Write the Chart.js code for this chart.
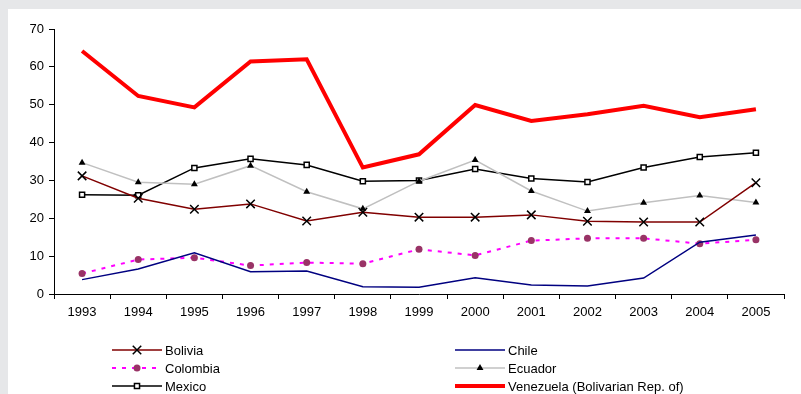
<!DOCTYPE html>
<html>
<head>
<meta charset="utf-8">
<script src="https://cdn.jsdelivr.net/npm/chart.js@4/dist/chart.umd.min.js"></script>
<style>
  html, body { margin: 0; padding: 0; background: #e6e7e9; }
  #wrap { position: absolute; left: 0; top: 0; width: 801px; height: 394px; }
</style>
</head>
<body>
<div id="wrap"><canvas id="chart" width="801" height="394"></canvas></div>
<script>
const years = ['1993','1994','1995','1996','1997','1998','1999','2000','2001','2002','2003','2004','2005'];
const bolivia   = [31.2, 25.3, 22.4, 23.8, 19.3, 21.6, 20.3, 20.3, 20.9, 19.2, 19.0, 19.0, 29.4];
const chile     = [3.8, 6.6, 10.9, 5.9, 6.1, 1.9, 1.8, 4.3, 2.4, 2.1, 4.2, 13.7, 15.6];
const colombia  = [5.4, 9.1, 9.6, 7.5, 8.3, 8.0, 11.8, 10.2, 14.1, 14.7, 14.7, 13.3, 14.3];
const ecuador   = [34.7, 29.5, 29.0, 33.9, 27.0, 22.5, 29.8, 35.4, 27.2, 21.9, 24.1, 26.0, 24.2];
const mexico    = [26.2, 26.1, 33.3, 35.7, 34.1, 29.8, 30.0, 33.0, 30.5, 29.6, 33.4, 36.2, 37.3];
const venezuela = [64.2, 52.3, 49.3, 61.4, 62.0, 33.4, 36.9, 49.9, 45.7, 47.5, 49.7, 46.7, 48.8];

const font = { family: 'Arial, "Liberation Sans", sans-serif', size: 13 };

// grey page with a white panel behind the chart
const panelBg = {
    id: 'panelBg',
    beforeDraw(chart) {
        const ctx = chart.ctx;
        ctx.save();
        ctx.fillStyle = '#e6e7e9';
        ctx.fillRect(0, 0, chart.width, chart.height);
        ctx.fillStyle = '#ffffff';
        ctx.fillRect(8, 9, chart.width - 8, chart.height - 9);
        ctx.restore();
    }
};

function drawMarker(ctx, ds, x, y) {
    const style = ds.pointStyle;
    const r = ds.pointRadius;
    if (!r) return;
    ctx.save();
    ctx.lineWidth = ds.pointBorderWidth || 1;
    ctx.strokeStyle = ds.pointBorderColor;
    ctx.fillStyle = ds.pointBackgroundColor;
    ctx.setLineDash([]);
    ctx.beginPath();
    if (style === 'crossRot') {
        const o = r * Math.SQRT1_2;
        ctx.moveTo(x - o, y - o); ctx.lineTo(x + o, y + o);
        ctx.moveTo(x - o, y + o); ctx.lineTo(x + o, y - o);
        ctx.stroke();
    } else if (style === 'circle') {
        ctx.arc(x, y, r, 0, Math.PI * 2);
        ctx.fill();
    } else if (style === 'triangle') {
        const w = r * Math.sqrt(3) / 2;
        ctx.moveTo(x, y - r); ctx.lineTo(x + w, y + r / 2); ctx.lineTo(x - w, y + r / 2);
        ctx.closePath(); ctx.fill();
    } else if (style === 'rect') {
        const s = r * Math.SQRT1_2;
        ctx.rect(x - s, y - s, 2 * s, 2 * s);
        ctx.fill(); ctx.stroke();
    }
    ctx.restore();
}

// legend: two columns, three rows
const legendBox = {
    id: 'legendBox',
    afterDraw(chart) {
        const ctx = chart.ctx;
        const cols = [112, 455];
        const rows = [350, 368, 386];
        chart.data.datasets.forEach((ds, i) => {
            const x = cols[i % 2], y = rows[Math.floor(i / 2)];
            ctx.save();
            ctx.strokeStyle = ds.borderColor;
            ctx.lineWidth = ds.borderWidth;
            ctx.setLineDash(ds.borderDash || []);
            ctx.beginPath();
            ctx.moveTo(x, y); ctx.lineTo(x + 50, y);
            ctx.stroke();
            ctx.restore();
            drawMarker(ctx, ds, x + 25, y);
            ctx.save();
            ctx.fillStyle = '#000';
            ctx.font = font.size + 'px ' + font.family;
            ctx.textBaseline = 'middle';
            ctx.fillText(ds.label, x + 53, y + 1);
            ctx.restore();
        });
    }
};

new Chart(document.getElementById('chart'), {
    type: 'line',
    data: {
        labels: years,
        datasets: [
            { label: 'Bolivia', data: bolivia, borderColor: '#800000', borderWidth: 1.5,
              pointStyle: 'crossRot', pointRadius: 6, pointBorderColor: '#000', pointBackgroundColor: '#000', pointBorderWidth: 1.5 },
            { label: 'Chile', data: chile, borderColor: '#000080', borderWidth: 1.5, pointRadius: 0 },
            { label: 'Colombia', data: colombia, borderColor: '#ff00ff', borderWidth: 2, borderDash: [4, 6],
              pointStyle: 'circle', pointRadius: 3.5, pointBorderColor: '#993366', pointBackgroundColor: '#993366', pointBorderWidth: 0 },
            { label: 'Ecuador', data: ecuador, borderColor: '#c0c0c0', borderWidth: 1.5,
              pointStyle: 'triangle', pointRadius: 4, pointBorderColor: '#000', pointBackgroundColor: '#000', pointBorderWidth: 0 },
            { label: 'Mexico', data: mexico, borderColor: '#000', borderWidth: 1.5,
              pointStyle: 'rect', pointRadius: 3.6, pointBorderColor: '#000', pointBackgroundColor: '#fff', pointBorderWidth: 1.5 },
            { label: 'Venezuela (Bolivarian Rep. of)', data: venezuela, borderColor: '#ff0000', borderWidth: 4, pointRadius: 0 }
        ]
    },
    options: {
        responsive: false,
        animation: false,
        layout: { padding: { left: 0, right: 17, top: 29, bottom: 0 } },
        plugins: { legend: { display: false }, tooltip: { enabled: false } },
        elements: { line: { tension: 0 } },
        scales: {
            x: {
                offset: true,
                grid: { display: true, drawOnChartArea: false, tickLength: 5, color: '#000', offset: true },
                border: { color: '#000', width: 1 },
                ticks: { color: '#000', font: font, padding: 6, maxRotation: 0, autoSkip: false },
                afterFit(scale) { scale.height = 100; }
            },
            y: {
                min: 0, max: 70,
                grid: { display: true, drawOnChartArea: false, tickLength: 5, color: '#000' },
                border: { color: '#000', width: 1 },
                ticks: { stepSize: 10, color: '#000', font: font, padding: 5 },
                afterFit(scale) { scale.width = 54; }
            }
        }
    },
    plugins: [panelBg, legendBox]
});
</script>
</body>
</html>
